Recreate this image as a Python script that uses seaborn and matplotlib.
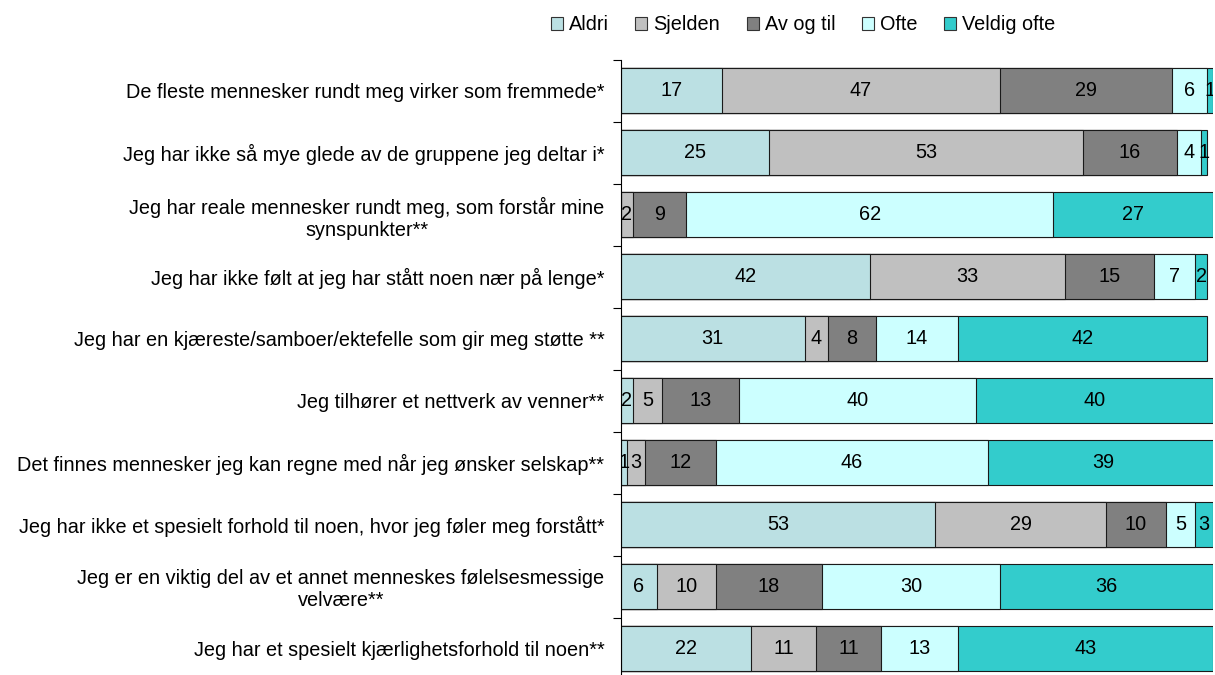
import numpy as np
import pandas as pd
import matplotlib
matplotlib.use("Agg")
import matplotlib.pyplot as plt
from matplotlib.patches import Patch
import seaborn as sns

categories = [
    "De fleste mennesker rundt meg virker som fremmede*",
    "Jeg har ikke så mye glede av de gruppene jeg deltar i*",
    "Jeg har reale mennesker rundt meg, som forstår mine\nsynspunkter**",
    "Jeg har ikke følt at jeg har stått noen nær på lenge*",
    "Jeg har en kjæreste/samboer/ektefelle som gir meg støtte **",
    "Jeg tilhører et nettverk av venner**",
    "Det finnes mennesker jeg kan regne med når jeg ønsker selskap**",
    "Jeg har ikke et spesielt forhold til noen, hvor jeg føler meg forstått*",
    "Jeg er en viktig del av et annet menneskes følelsesmessige\nvelvære**",
    "Jeg har et spesielt kjærlighetsforhold til noen**",
]
series = ["Aldri", "Sjelden", "Av og til", "Ofte", "Veldig ofte"]
aldri = [17, 25, 0, 42, 31, 2, 1, 53, 6, 22]
sjelden = [47, 53, 2, 33, 4, 5, 3, 29, 10, 11]
av_og_til = [29, 16, 9, 15, 8, 13, 12, 10, 18, 11]
ofte = [6, 4, 62, 7, 14, 40, 46, 5, 30, 13]
veldig_ofte = [1, 1, 27, 2, 42, 40, 39, 3, 36, 43]
colors = ["#BBE0E3", "#C0C0C0", "#808080", "#CCFFFF", "#33CCCC"]

sns.set_theme(style="white")
plt.rcParams['font.family'] = ['Liberation Sans', 'DejaVu Sans']
plt.rcParams['text.color'] = 'black'
plt.rcParams['ytick.labelcolor'] = 'black'
FS = 14.3

vals = np.array([aldri, sjelden, av_og_til, ofte, veldig_ofte], dtype=float)
cum = np.cumsum(vals, axis=0)

fig = plt.figure(figsize=(12.15, 6.75), dpi=100)
ax = fig.add_axes([621 / 1215, 1 - 679.5 / 675, (1213 - 621) / 1215, 620 / 675])

for i in range(len(series) - 1, -1, -1):
    df = pd.DataFrame({"cat": categories, "cum": cum[i]})
    sns.barplot(data=df, x="cum", y="cat", orient="h", color=colors[i],
                width=0.73, edgecolor="#1a1a1a", linewidth=0.8, ax=ax,
                saturation=1)

for i in range(len(series)):
    for j in range(len(categories)):
        v = vals[i, j]
        if v <= 0:
            continue
        ax.text(cum[i, j] - v / 2, j, f"{int(v)}", ha="center", va="center",
                fontsize=FS, color="black", clip_on=True)

ax.set_xlim(0, 100)
ax.set_ylim(len(categories) - 0.5, -0.5)
ax.set_xlabel("")
ax.set_ylabel("")
ax.set_xticks([])
for s in ["top", "right", "bottom"]:
    ax.spines[s].set_visible(False)
ax.spines["left"].set_color("black")
ax.spines["left"].set_linewidth(0.8)
ax.set_yticks(range(len(categories)))
ax.set_yticklabels(categories, fontsize=FS, multialignment="center",
                   linespacing=1.2, color="black")
ax.tick_params(axis="y", which="major", length=0, pad=12)
ax.set_yticks(np.arange(-0.5, len(categories), 1.0), minor=True)
ax.tick_params(axis="y", which="minor", length=6, width=0.8, color="black",
               direction="out", left=True)

handles = [Patch(facecolor=c, edgecolor="#333333", linewidth=0.8) for c in colors]
fig.legend(handles, series, loc="center", bbox_to_anchor=(803 / 1215, 1 - 25 / 675),
           ncol=5, frameon=False, fontsize=FS, handlelength=0.6, handleheight=0.6,
           handletextpad=0.3, columnspacing=1.35)

fig.savefig("out.png", dpi=100)
